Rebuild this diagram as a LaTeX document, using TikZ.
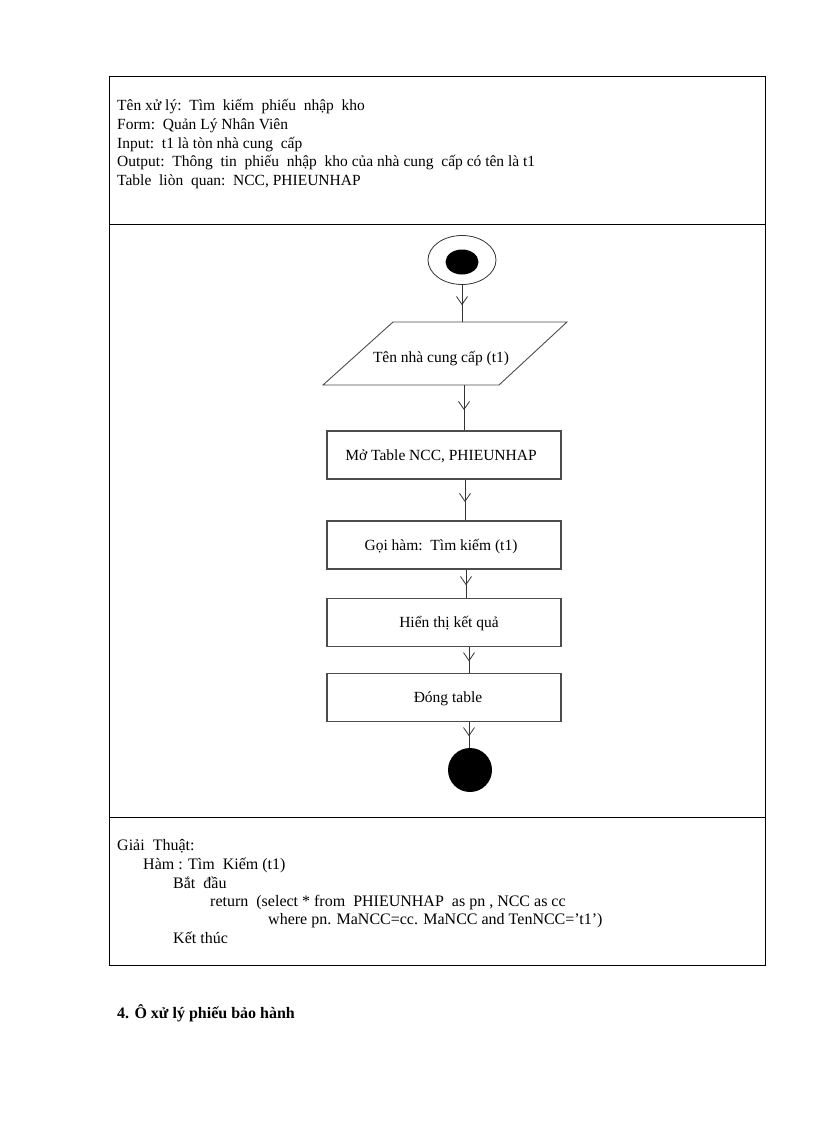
\documentclass[tikz,border=0pt]{standalone}
\usepackage{fontspec}
\setmainfont{Liberation Serif}
\usetikzlibrary{arrows.meta,decorations.markings,shapes.geometric}
\begin{document}
\begin{tikzpicture}[x=1pt,y=-1pt,
  frame/.style={draw=black,line width=0.8pt},
  txt/.style={anchor=base west,inner sep=0pt,font=\fontsize{15.5}{18}\selectfont},
  algtxt/.style={anchor=base west,inner sep=0pt,font=\fontsize{16}{18}\selectfont},
  boxtxt/.style={anchor=base,inner sep=0pt,font=\fontsize{15.5}{18}\selectfont},
  stepbox/.style={draw=black!70,line width=1.1pt,minimum width=234pt,minimum height=48pt,inner sep=0pt},
  flow/.style={draw=black!80,line width=0.8pt,postaction={decorate},
    decoration={markings,mark=at position 0.55 with {\arrow{Straight Barb[length=8pt,width=11pt,line width=0.8pt]}}}}]
\useasboundingbox (0,0) rectangle (816,1123);
% outer table
\draw[frame] (109,76) rectangle (765,965);
\draw[frame] (109,224) -- (765,224);
\draw[frame] (109,817) -- (765,817);
% header text
\node[txt] (h1) at (117,110.5) {Tên xử lý:\ \ Tìm\ \ kiếm\ \ phiếu\ \ nhập\ \ kho};
\node[txt] (h2) at (117,129.3) {Form:\ \ Quản Lý Nhân Viên};
\node[txt] (h3) at (117,148.1) {Input:\ \ t1 là tòn nhà cung\ \ cấp};
\node[txt] (h4) at (117,166.9) {Output:\ \ Thông\ \ tin\ \ phiếu\ \ nhập\ \ kho của nhà cung\ \ cấp có tên là t1};
\node[txt] (h5) at (117,185.7) {Table\ \ liòn\ \ quan:\ \ NCC, PHIEUNHAP};
% start
\node[draw=black!80,line width=0.8pt,ellipse,minimum width=68pt,minimum height=49pt,inner sep=0pt] (start) at (462,260) {};
\fill (462,262) ellipse [x radius=16.5, y radius=12.5];
% parallelogram
\draw[black!70,line width=0.9pt] (393,322) -- (567,322) -- (499,385) -- (323,385) -- cycle;
\node[minimum width=106pt,minimum height=63pt,inner sep=0pt] (para) at (446,353.5) {};
\node[boxtxt] (paratxt) at (441,362) {Tên nhà cung cấp (t1)};
% boxes
\node[stepbox] (b1) at (444,455) {};
\node[boxtxt] at (441,460.5) {Mở Table NCC, PHIEUNHAP};
\node[stepbox] (b2) at (444,545) {};
\node[boxtxt] at (441,550.5) {Gọi hàm:\ \ Tìm kiếm (t1)};
\node[stepbox] (b3) at (444,622.5) {};
\node[boxtxt] at (449,627.5) {Hiển thị kết quả};
\node[stepbox] (b4) at (444,697.5) {};
\node[boxtxt] at (448,702.5) {Đóng table};
% end
\node[circle,fill=black,minimum size=44pt,inner sep=0pt] (end) at (470,770) {};
% connector columns
\coordinate (x2) at (464,0);
\coordinate (x3) at (465,0);
\coordinate (x4) at (466,0);
\coordinate (x5) at (469,0);
\draw[flow] (start.south) -- (start.south |- para.north);
\draw[flow] (para.south -| x2) -- (b1.north -| x2);
\draw[flow] (b1.south -| x3) -- (b2.north -| x3);
\draw[flow] (b2.south -| x4) -- (b3.north -| x4);
\draw[flow] (b3.south -| x5) -- (b4.north -| x5);
\draw[flow] (b4.south -| x5) -- (end.north -| x5);
% algorithm text
\node[algtxt] (g1) at (117,850.5) {Giải\ \ Thuật:};
\node[algtxt] (g2) at (143,869.5) {Hàm : Tìm\ \ Kiếm (t1)};
\node[algtxt] (g3) at (173,888.5) {Bắt\ \ đầu};
\node[algtxt] (g4) at (210,906.5) {return\ \ (select * from\ \ PHIEUNHAP\ \ as pn , NCC as cc};
\node[algtxt] (g5) at (268,924.5) {where pn. MaNCC=cc. MaNCC and TenNCC=’t1’)};
\node[algtxt] (g6) at (173,943.5) {Kết thúc};
% section heading
\node[algtxt,font=\fontsize{16}{18}\selectfont\bfseries] (sec) at (117,1018.5) {4. Ô xử lý phiếu bảo hành};
\end{tikzpicture}
\end{document}
